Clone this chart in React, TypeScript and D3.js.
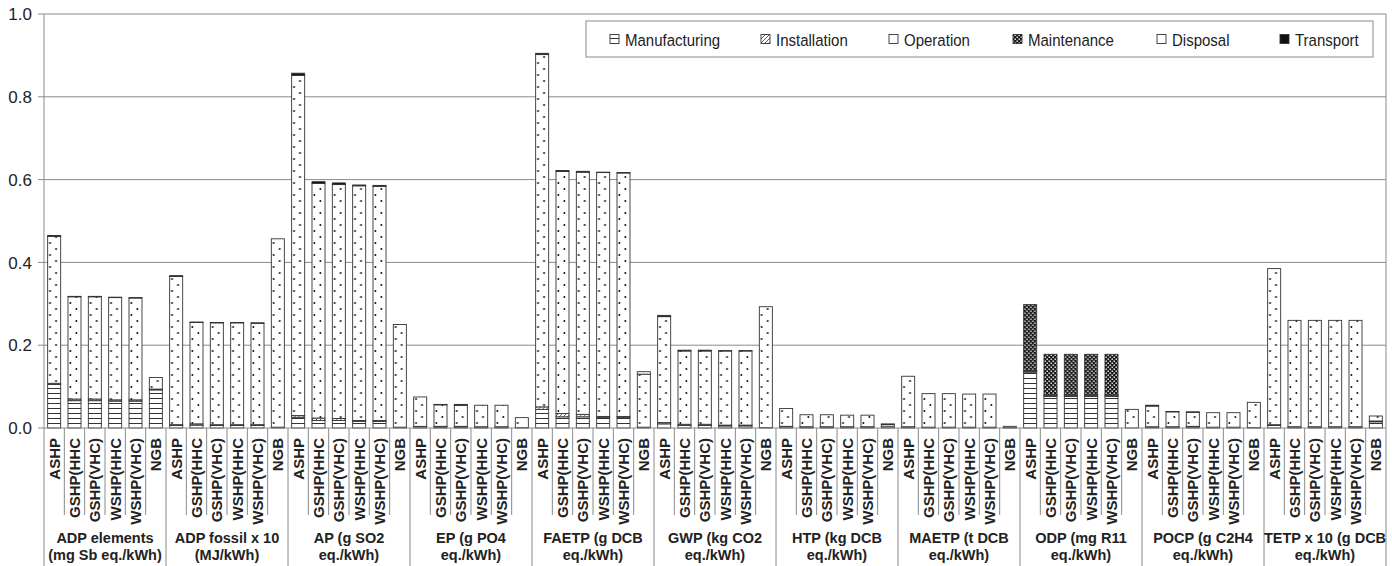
import React from 'react';
import * as d3 from 'd3';

const groupLabels: string[][] = [
  ['ADP elements', '(mg Sb eq./kWh)'],
  ['ADP fossil x 10', '(MJ/kWh)'],
  ['AP (g SO2', 'eq./kWh)'],
  ['EP (g PO4', 'eq./kWh)'],
  ['FAETP (g DCB', 'eq./kWh)'],
  ['GWP (kg CO2', 'eq./kWh)'],
  ['HTP (kg DCB', 'eq./kWh)'],
  ['MAETP (t  DCB', 'eq./kWh)'],
  ['ODP (mg R11', 'eq./kWh)'],
  ['POCP (g C2H4', 'eq./kWh)'],
  ['TETP x 10 (g DCB', 'eq./kWh)'],
];
const systems = ['ASHP', 'GSHP(HHC', 'GSHP(VHC)', 'WSHP(HHC', 'WSHP(VHC)', 'NGB'];
const seriesNames = ['Manufacturing', 'Installation', 'Operation', 'Maintenance', 'Disposal', 'Transport'];
const yTicks = [0, 0.2, 0.4, 0.6, 0.8, 1.0];

const manufacturing = [
  [0.105, 0.066, 0.066, 0.065, 0.065, 0.092],
  [0.006, 0.007, 0.006, 0.006, 0.006, 0.002],
  [0.026, 0.018, 0.018, 0.016, 0.016, 0.002],
  [0.003, 0.002, 0.002, 0.002, 0.002, 0.001],
  [0.045, 0.027, 0.027, 0.025, 0.025, 0.002],
  [0.010, 0.006, 0.006, 0.005, 0.005, 0.001],
  [0.003, 0.002, 0.002, 0.002, 0.002, 0.003],
  [0.002, 0.001, 0.001, 0.001, 0.001, 0.001],
  [0.135, 0.076, 0.076, 0.076, 0.076, 0.000],
  [0.002, 0.002, 0.002, 0.001, 0.001, 0.001],
  [0.006, 0.002, 0.002, 0.002, 0.002, 0.015],
];
const installation = [
  [0.003, 0.004, 0.004, 0.003, 0.003, 0.002],
  [0.002, 0.003, 0.002, 0.002, 0.002, 0],
  [0.004, 0.006, 0.005, 0.002, 0.002, 0],
  [0.001, 0.002, 0.002, 0.001, 0.001, 0],
  [0.006, 0.008, 0.006, 0.003, 0.003, 0],
  [0.003, 0.003, 0.003, 0.002, 0.002, 0],
  [0.001, 0.001, 0.001, 0.001, 0.001, 0],
  [0.001, 0.001, 0.001, 0.001, 0.001, 0],
  [0.002, 0.003, 0.003, 0.003, 0.003, 0],
  [0.001, 0.001, 0.002, 0.001, 0.001, 0],
  [0.002, 0.001, 0.001, 0.001, 0.001, 0.002],
];
const operation = [
  [0.355, 0.247, 0.247, 0.247, 0.246, 0.028],
  [0.358, 0.245, 0.246, 0.246, 0.245, 0.455],
  [0.822, 0.567, 0.565, 0.567, 0.566, 0.248],
  [0.071, 0.052, 0.051, 0.052, 0.052, 0.024],
  [0.851, 0.585, 0.585, 0.589, 0.588, 0.128],
  [0.256, 0.177, 0.177, 0.179, 0.179, 0.292],
  [0.043, 0.029, 0.029, 0.028, 0.028, 0.005],
  [0.122, 0.081, 0.081, 0.080, 0.080, 0.003],
  [0.002, 0.001, 0.001, 0.001, 0.001, 0.045],
  [0.050, 0.036, 0.034, 0.035, 0.035, 0.061],
  [0.377, 0.257, 0.257, 0.257, 0.257, 0.012],
];
const maintenance = [
  [0, 0, 0, 0, 0, 0],
  [0, 0, 0, 0, 0, 0],
  [0, 0, 0, 0, 0, 0],
  [0, 0, 0, 0, 0, 0],
  [0, 0, 0, 0, 0, 0],
  [0, 0, 0, 0, 0, 0],
  [0, 0, 0, 0, 0, 0],
  [0, 0, 0, 0, 0, 0],
  [0.159, 0.098, 0.098, 0.098, 0.098, 0],
  [0, 0, 0, 0, 0, 0],
  [0, 0, 0, 0, 0, 0],
];
const disposal = [
  [0, 0, 0, 0, 0, 0],
  [0, 0, 0, 0, 0, 0],
  [0, 0, 0, 0, 0, 0],
  [0, 0, 0, 0, 0, 0],
  [0, 0, 0, 0, 0, 0.006],
  [0, 0, 0, 0, 0, 0],
  [0, 0, 0, 0, 0, 0.002],
  [0, 0, 0, 0, 0, 0],
  [0, 0, 0, 0, 0, 0],
  [0, 0, 0, 0, 0, 0],
  [0, 0, 0, 0, 0, 0],
];
const transport = [
  [0.002, 0.001, 0.001, 0.001, 0.001, 0],
  [0.002, 0.001, 0.001, 0.001, 0.001, 0],
  [0.005, 0.004, 0.004, 0.002, 0.002, 0],
  [0, 0.001, 0.002, 0, 0, 0],
  [0.003, 0.002, 0.002, 0.001, 0.001, 0],
  [0.003, 0.002, 0.002, 0.001, 0.001, 0],
  [0, 0, 0, 0, 0, 0],
  [0, 0, 0, 0, 0, 0],
  [0, 0, 0, 0, 0, 0],
  [0.002, 0.001, 0.001, 0, 0, 0],
  [0, 0, 0, 0, 0, 0],
];

const seriesData = [manufacturing, installation, operation, maintenance, disposal, transport];
const fills = ['url(#pManuf)', 'url(#pInst)', 'url(#pOper)', 'url(#pMaint)', '#ffffff', '#111111'];

const W = 1392;
const H = 566;
const left = 44;
const right = 1386;
const top = 14;
const bottom = 428;
const FONT = "'Liberation Sans', Arial, sans-serif";

export default function App() {
  const groupKeys = groupLabels.map((g, i) => String(i));
  const xGroup = d3.scaleBand<string>().domain(groupKeys).range([left, right]).padding(0);
  const gw = xGroup.bandwidth();
  const xSub = d3.scaleBand<string>().domain(systems).range([0, gw]).paddingInner(0.36).paddingOuter(0.18);
  const y = d3.scaleLinear().domain([0, 1]).range([bottom, top]);

  const rows: any[] = [];
  groupLabels.forEach((g, gi) => {
    systems.forEach((s, si) => {
      const r: any = { gi, si };
      seriesNames.forEach((n, k) => { r[n] = seriesData[k][gi][si]; });
      rows.push(r);
    });
  });
  const stacked = d3.stack<any>().keys(seriesNames)(rows);
  const step = gw / systems.length;

  return (
    <svg width={W} height={H} style={{ position: 'absolute', left: 0, top: 0, background: '#fff' }} fontFamily={FONT}>
      <defs>
        <pattern id="pManuf" patternUnits="userSpaceOnUse" width="8" height="5" y="3">
          <rect width="8" height="5" fill="#fff" />
          <line x1="0" x2="8" y1="0.5" y2="0.5" stroke="#333" strokeWidth="1" />
        </pattern>
        <pattern id="pInst" patternUnits="userSpaceOnUse" width="4" height="4">
          <rect width="4" height="4" fill="#fff" />
          <path d="M0,4 L4,0 M-1,1 L1,-1 M3,5 L5,3" stroke="#333" strokeWidth="0.8" />
        </pattern>
        <pattern id="pOper" patternUnits="userSpaceOnUse" width="13" height="12">
          <rect width="13" height="12" fill="#fff" />
          <circle cx="2.4" cy="3" r="1" fill="#111" />
          <circle cx="8.4" cy="9" r="1" fill="#111" />
        </pattern>
        <pattern id="pMaint" patternUnits="userSpaceOnUse" width="4" height="4">
          <rect width="4" height="4" fill="#1a1a1a" />
          <rect x="0.5" y="0.5" width="1.4" height="1.4" fill="#fff" />
          <rect x="2.5" y="2.5" width="1.4" height="1.4" fill="#fff" />
        </pattern>
      </defs>

      {yTicks.filter(t => t > 0).map(t => (
        <line key={'g' + t} x1={left} x2={right} y1={y(t)} y2={y(t)} stroke="#8a8a8a" strokeWidth={1} />
      ))}
      <line x1={right} x2={right} y1={top} y2={H} stroke="#8a8a8a" strokeWidth={1} />
      <line x1={left} x2={left} y1={top} y2={H} stroke="#8a8a8a" strokeWidth={1} />
      {yTicks.map(t => (
        <g key={'t' + t}>
          <line x1={left - 6} x2={left} y1={y(t)} y2={y(t)} stroke="#8a8a8a" />
          <text x={32} y={y(t)} dy="0.36em" textAnchor="end" fontSize={17} fill="#222">{t.toFixed(1)}</text>
        </g>
      ))}

      {stacked.map((layer, k) => (
        <g key={seriesNames[k]}>
          {layer.map((d, i) => {
            const r = rows[i];
            const v = d[1] - d[0];
            if (v <= 0) return null;
            const bx = (xGroup(String(r.gi)) as number) + (xSub(systems[r.si]) as number);
            return (
              <g key={i} transform={`translate(${bx},0)`}>
                <rect x={0} y={y(d[1])} width={xSub.bandwidth()} height={y(d[0]) - y(d[1])}
                  fill={fills[k]} stroke="#333" strokeWidth={0.9} />
              </g>
            );
          })}
        </g>
      ))}

      <line x1={left} x2={right} y1={bottom} y2={bottom} stroke="#8a8a8a" strokeWidth={1} />

      {groupLabels.map((g, gi) => {
        const gx = xGroup(String(gi)) as number;
        return (
          <g key={'c' + gi}>
            {systems.map((s) => {
              const cx = gx + (xSub(s) as number) + xSub.bandwidth() / 2;
              return (
                <text key={s} transform={`translate(${cx},438) rotate(-90)`} dy="0.36em" textAnchor="end"
                  fontSize={15} fontWeight="bold" fill="#222">{s}</text>
              );
            })}
            {systems.slice(1).map((s, si) => (
              <line key={'s' + si} x1={gx + step * (si + 1)} x2={gx + step * (si + 1)} y1={bottom} y2={515}
                stroke="#8a8a8a" strokeWidth={1} />
            ))}
            {gi > 0 && <line x1={gx} x2={gx} y1={bottom} y2={H} stroke="#8a8a8a" strokeWidth={1} />}
            <text x={gx + gw / 2} y={543} textAnchor="middle" fontSize={14.5} fontWeight="bold" fill="#222">{g[0]}</text>
            <text x={gx + gw / 2} y={560} textAnchor="middle" fontSize={14.5} fontWeight="bold" fill="#222">{g[1]}</text>
          </g>
        );
      })}

      <rect x={586} y={21} width={787} height={36} fill="#fff" stroke="#8a8a8a" strokeWidth={1} />
      {seriesNames.map((n, k) => {
        const lx = [610, 761, 889, 1013, 1157, 1280][k];
        return (
          <g key={'l' + n}>
            <rect x={lx} y={34.5} width={9} height={9} fill={fills[k]} stroke="#333" strokeWidth={0.9} />
            <text transform={`translate(${lx + 15},45.5) scale(0.91,1)`} fontSize={16.5} fill="#222">{n}</text>
          </g>
        );
      })}
    </svg>
  );
}
